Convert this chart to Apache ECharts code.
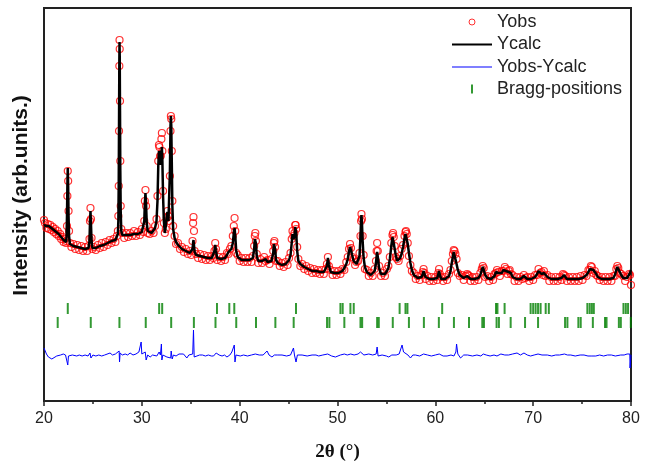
<!DOCTYPE html>
<html>
<head>
<meta charset="utf-8">
<script src="https://cdn.jsdelivr.net/npm/echarts@6/dist/echarts.min.js"></script>
<style>html,body{margin:0;padding:0;background:#fff;}#chart{width:651px;height:464px;}</style>
</head>
<body>
<div id="chart"></div>
<script>
// 2theta grid (degrees) shared by observed and calculated profiles
const twoTheta = [
20.0,20.1,20.25,20.4,20.5,20.65,20.75,20.9,21.0,21.15,21.25,21.4,21.5,21.65,21.75,21.9,22.0,22.15,22.25,
22.3,22.35,22.39,22.43,22.47,22.51,22.56,22.65,22.8,23.0,23.2,23.4,23.6,23.8,24.0,24.2,24.4,24.55,
24.65,24.7,24.75,24.8,24.86,24.95,25.1,25.3,25.5,25.7,25.9,26.1,26.3,26.5,26.7,26.9,27.1,27.3,27.45,
27.55,27.6,27.64,27.67,27.7,27.72,27.74,27.77,27.8,27.84,27.9,28.0,28.2,28.4,28.6,28.8,29.0,29.2,29.4,29.6,29.8,30.0,30.15,
30.25,30.31,30.37,30.43,30.5,30.6,30.8,31.0,31.2,31.35,31.5,31.6,31.68,31.75,31.8,31.87,31.93,32.0,32.05,32.1,32.17,32.25,32.35,32.45,32.55,32.62,32.72,32.8,32.87,32.93,32.97,33.01,33.06,33.12,33.2,
33.35,33.5,33.7,33.9,34.1,34.3,34.5,34.7,34.9,35.05,35.18,35.24,35.28,35.33,35.4,35.55,35.75,35.95,36.15,36.35,36.55,36.75,36.95,37.15,37.3,
37.42,37.5,37.58,37.7,37.9,38.1,38.3,38.5,38.7,38.85,39.0,39.15,39.3,39.4,39.48,39.55,39.65,39.8,40.0,40.2,40.4,40.6,40.8,41.0,41.2,41.35,
41.48,41.55,41.6,41.66,41.75,41.9,42.1,42.3,42.5,42.65,42.85,43.05,43.25,43.43,43.5,43.55,43.62,43.72,43.9,44.1,44.3,44.5,44.7,44.9,45.05,
45.2,45.32,45.4,45.5,45.6,45.68,45.72,45.78,45.88,46.0,46.2,46.4,46.6,46.8,47.0,47.2,47.4,47.6,47.8,48.0,48.2,48.4,48.6,48.8,
48.92,49.02,49.12,49.3,49.5,49.7,49.9,50.1,50.3,50.5,50.7,50.9,51.05,51.18,51.28,51.38,51.5,51.65,51.8,51.95,52.1,52.25,52.35,52.41,52.45,52.5,52.57,52.67,52.8,53.0,53.2,53.4,53.6,53.8,53.93,
54.0,54.05,54.12,54.25,54.45,54.65,54.85,55.05,55.2,55.35,55.5,55.62,55.68,55.75,55.85,55.95,56.1,56.25,56.4,56.55,56.7,56.85,56.95,57.0,57.08,57.18,57.3,57.45,57.6,57.8,
58.0,58.2,58.4,58.6,58.72,58.8,58.88,59.0,59.2,59.4,59.6,59.8,60.0,60.2,60.3,60.38,60.46,60.6,60.8,61.0,61.2,61.4,61.55,61.68,61.8,61.88,61.96,62.05,62.17,62.3,62.5,62.7,62.9,
63.1,63.25,63.35,63.45,63.6,63.8,64.0,64.2,64.4,64.6,64.75,64.85,64.95,65.1,65.3,65.5,65.7,65.9,66.05,66.2,66.3,66.42,66.6,66.8,66.95,67.1,67.22,67.38,67.5,67.6,67.72,67.9,
68.1,68.3,68.5,68.7,68.9,69.05,69.2,69.4,69.6,69.8,70.0,70.2,70.4,70.55,70.7,70.85,71.0,71.1,71.25,71.45,71.65,71.85,72.1,72.3,72.5,72.7,72.9,73.05,73.15,73.28,73.45,
73.65,73.85,74.05,74.25,74.45,74.65,74.85,75.05,75.25,75.45,75.65,75.8,75.9,76.0,76.15,76.3,76.45,76.6,76.8,77.0,77.2,77.4,77.6,77.8,78.0,78.2,78.35,78.5,78.6,78.7,78.85,79.0,79.2,79.4,79.6,79.8,79.9,80.0
];
// calculated intensity (arb. units)
const yCalc = [
176,176,175,175,175,174,173,172,171,170,169,168,167,165,164,162,161,160,159,
163,185,215,233,215,185,165,157,156,155,154,154,153,153,152,152,152,153,
160,178,190,178,160,153,152,153,154,155,156,156,157,158,159,160,160,161,163,
167,180,220,280,340,359,345,290,230,190,170,166,165,166,166,166,167,167,167,167,168,169,171,
180,198,208,198,178,170,169,168,170,173,180,200,235,250,252,242,236,248,254,240,205,180,168,175,185,189,180,180,230,275,285,275,240,195,172,
163,159,156,154,152,151,150,149,148,148,152,158,161,156,149,146,145,145,144,144,143,143,143,143,144,
150,156,150,143,142,142,142,143,146,149,150,152,158,168,173,165,150,144,142,141,141,141,141,141,141,143,
152,162,164,158,145,140,140,140,141,142,139,139,140,148,157,159,152,141,138,137,136,136,137,138,141,
146,158,167,162,165,174,175,168,150,140,137,135,134,133,132,131,130,130,130,129,129,129,129,130,
135,143,136,129,128,128,128,128,129,130,133,137,142,150,154,151,146,140,138,137,139,145,165,182,186,178,160,143,134,129,127,126,127,130,138,
145,149,144,133,127,126,127,130,133,142,155,164,166,162,152,146,140,138,143,147,154,163,167,168,165,157,148,138,131,126,
124,123,123,124,127,130,127,124,123,122,122,122,122,123,127,130,126,122,122,122,123,125,130,138,145,149,147,142,137,131,126,124,123,
123,125,126,124,122,122,122,122,123,126,131,134,131,126,123,122,122,123,125,129,130,128,126,128,131,133,130,128,129,130,128,124,
122,122,122,122,123,125,124,122,122,122,123,124,127,130,129,127,127,128,126,124,122,122,122,122,122,122,123,125,126,124,122,
122,122,122,122,122,122,123,123,124,126,129,132,134,133,131,129,127,124,123,122,122,122,122,122,122,123,126,131,134,132,129,126,123,122,123,125,128,131
];
// observed intensity (arb. units)
const yObs = [
181,178,173,177,172,176,171,174,169,172,167,170,165,167,162,164,159,162,158,
160,175,205,230,220,190,170,158,154,157,152,156,151,155,150,154,150,155,
162,180,193,182,163,152,154,151,156,153,158,154,159,156,161,158,162,159,165,
170,185,215,270,335,361,352,300,240,195,172,168,163,168,164,168,165,170,165,169,166,172,169,
180,200,211,195,175,168,167,170,168,175,182,205,240,256,254,245,245,262,268,250,210,178,168,172,183,190,185,180,225,270,285,282,250,200,175,
165,157,158,152,154,149,152,147,150,146,160,178,184,170,150,147,143,147,142,146,141,145,141,145,143,
150,158,152,141,144,140,144,141,148,147,152,155,165,175,183,170,148,146,140,143,139,143,139,143,139,145,
155,165,168,160,147,138,142,138,144,140,141,137,142,150,158,160,154,140,140,135,138,134,139,136,143,
148,162,170,165,168,176,176,172,154,142,135,137,132,135,130,133,128,132,128,131,127,131,127,132,
137,144,135,131,126,130,126,130,127,132,131,139,144,152,157,153,144,142,136,139,140,148,165,180,187,182,165,146,132,131,125,128,125,132,140,
150,158,150,135,125,128,125,132,135,144,158,166,168,164,155,144,142,140,145,152,156,165,169,170,167,158,145,136,130,128,
122,125,121,126,129,132,128,122,125,120,124,120,124,121,128,132,127,124,120,124,121,127,131,140,147,151,150,147,142,128,125,126,121,
125,127,126,125,120,124,120,124,121,128,132,135,133,124,125,120,124,121,127,128,131,129,125,130,130,134,132,127,130,131,127,126,
120,124,120,124,122,126,123,124,120,124,121,126,126,132,128,129,126,130,125,126,120,124,120,124,120,124,121,127,126,125,120,
124,120,124,120,124,120,125,121,126,125,131,131,135,134,128,130,126,125,121,124,120,124,120,124,120,125,125,132,135,133,128,127,125,120,124,127,126,116
];
// difference curve Yobs-Ycalc (plotted with its offset), [2theta, value]
const diffPoints = [
[20.0,53],[20.1,51],[20.25,47],[20.45,44],[20.6,42],[20.8,42],[21.0,44],[21.3,45],[21.5,47],[21.7,46],[21.97,47],[22.2,46],[22.38,48],[22.43,36],[22.5,45],[22.66,45],[22.9,46],[23.1,44],[23.35,45],[23.6,46],[23.9,45],[24.2,46],[24.5,45],[24.7,48],[24.8,43],[25.0,46],[25.3,45],[25.6,46],[25.9,45],[26.2,46],[26.4,45],[26.75,48],[27.0,46],[27.3,47],[27.5,45],[27.68,50],[27.72,39],[27.78,48],[28.0,46],[28.3,47],[28.55,46],[28.8,48],[29.1,46],[29.4,47],[29.7,49],[29.93,59],[30.0,47],[30.16,46],[30.35,49],[30.44,41],[30.6,46],[30.85,44],[31.1,46],[31.3,45],[31.53,45],[31.77,49],[31.9,46],[32.0,57],[32.05,41],[32.15,46],[32.35,45],[32.56,44],[32.75,46],[32.95,43],[33.0,50],[33.1,42],[33.23,46],[33.5,45],[33.8,47],[34.0,46],[34.26,47],[34.45,45],[34.6,43],[34.8,46],[35.0,46],[35.2,47],[35.28,71],[35.35,44],[35.45,46],[35.63,45],[35.9,46],[36.2,46],[36.5,45],[36.8,46],[37.1,45],[37.33,45],[37.5,47],[37.6,48],[37.9,46],[38.2,45],[38.45,46],[38.7,44],[39.0,46],[39.2,49],[39.45,56],[39.52,39],[39.62,46],[40.06,45],[40.4,46],[40.8,45],[41.2,46],[41.6,47],[42.0,46],[42.4,46],[42.8,50],[43.0,46],[43.3,44],[43.55,46],[43.9,46],[44.33,46],[44.8,45],[45.2,46],[45.5,53],[45.6,46],[45.76,39],[45.9,46],[46.38,46],[46.9,45],[47.4,46],[47.8,46],[48.08,45],[48.5,46],[49.0,47],[49.4,45],[49.79,44],[50.3,46],[50.7,47],[51.0,46],[51.15,48],[51.35,47],[51.7,46],[52.1,47],[52.35,49],[52.52,48],[52.7,46],[53.2,47],[53.6,46],[53.95,47],[54.05,54],[54.15,45],[54.56,46],[55.0,45],[55.24,44],[55.55,46],[55.7,47],[56.0,46],[56.3,47],[56.6,56],[56.75,49],[56.95,48],[57.2,46],[57.46,43],[57.7,46],[57.97,46],[58.4,45],[58.8,47],[59.2,46],[59.6,45],[60.0,46],[60.4,47],[60.8,45],[61.2,45],[61.6,46],[61.9,45],[62.1,49],[62.17,57],[62.3,47],[62.58,43],[62.9,46],[63.3,46],[63.8,45],[64.25,46],[64.65,45],[64.9,47],[65.2,46],[65.6,45],[66.0,46],[66.3,45],[66.7,47],[67.1,46],[67.5,46],[67.9,47],[68.35,48],[68.7,46],[69.06,48],[69.4,46],[69.74,45],[70.1,46],[70.5,47],[70.9,46],[71.45,46],[71.9,45],[72.3,46],[72.7,46],[73.2,47],[73.5,46],[73.85,46],[74.3,45],[74.8,46],[75.2,46],[75.6,45],[76.0,45],[76.2,43],[76.4,45],[76.8,46],[77.2,45],[77.6,46],[78.0,46],[78.4,45],[78.95,46],[79.3,46],[79.6,47],[79.8,48],[79.88,47],[79.9,33],[80.0,46]
];
// Bragg reflection positions (2theta) for the two phases
const braggPhase1 = [22.43,31.77,32.08,37.68,38.94,39.45,45.76,50.3,50.53,51.32,51.66,56.35,56.95,57.15,60.7,66.2,66.35,67.08,69.74,70.0,70.25,70.5,70.76,71.28,71.6,75.54,75.78,76.0,76.2,79.23,79.47,79.7];
const braggPhase2 = [21.4,24.78,27.71,30.4,33.0,35.32,37.53,39.65,41.67,43.65,45.52,48.93,49.17,50.7,52.35,52.52,54.05,54.22,55.65,57.3,58.83,60.36,61.9,63.44,64.8,64.97,66.26,66.5,67.7,69.17,70.5,73.26,73.5,74.62,74.86,76.1,77.34,77.5,78.76,78.96,79.98];
const xTicks = [20,30,40,50,60,70,80];

const BRAGG1_LEVEL = 92.5, BRAGG2_LEVEL = 78.5;
const calcData = twoTheta.map((t,i)=>[t,yCalc[i]]);
const obsData = twoTheta.map((t,i)=>[t,yObs[i]]);
const b1 = braggPhase1.map(t=>[t,BRAGG1_LEVEL]);
const b2 = braggPhase2.map(t=>[t,BRAGG2_LEVEL]);

const chart = echarts.init(document.getElementById('chart'), null, {renderer:'canvas'});
const txt = {fontFamily:'Liberation Sans, Arial, sans-serif', color:'#222'};
chart.setOption({
  animation:false,
  backgroundColor:'#fff',
  grid:{left:44,right:20,top:8,bottom:63,outerBoundsMode:'none',containLabel:false,show:true,borderColor:'#222',borderWidth:2,backgroundColor:'transparent'},
  xAxis:{type:'value',min:xTicks[0],max:xTicks[xTicks.length-1],interval:10,
    axisLine:{show:true,lineStyle:{color:'#222',width:2}},
    axisTick:{show:true,length:5,lineStyle:{color:'#222',width:1.5}},
    minorTick:{show:true,splitNumber:2,length:3,lineStyle:{color:'#222',width:1.5}},
    splitLine:{show:false},
    axisLabel:Object.assign({fontSize:16,margin:10},txt),
    name:'2θ (°)',nameLocation:'middle',nameGap:42,
    nameTextStyle:{fontFamily:'Liberation Serif, Times New Roman, serif',fontWeight:'bold',fontSize:19,color:'#111'}
  },
  yAxis:{type:'value',min:0,max:393,
    axisLine:{show:true,lineStyle:{color:'#222',width:2}},
    axisTick:{show:false},axisLabel:{show:false},splitLine:{show:false},
    name:'Intensity (arb.units.)',nameLocation:'middle',nameGap:12,
    nameTextStyle:{fontFamily:'Liberation Sans, Arial, sans-serif',fontWeight:'bold',fontSize:21,color:'#111',padding:[0,0,0,18]}
  },
  legend:[
    {data:[{name:'Yobs',icon:'circle',itemStyle:{color:'transparent',borderColor:'#ff0000',borderWidth:1}},
           {name:'Ycalc',icon:'path://M0,0L40,0L40,2L0,2Z',itemStyle:{color:'#000'}},
           {name:'Yobs-Ycalc',icon:'path://M0,0L40,0L40,1L0,1Z',itemStyle:{color:'#0000ff'}}],
     orient:'vertical',left:452,top:11,padding:0,itemGap:0.5,itemWidth:40,itemHeight:6,selectedMode:false,
     textStyle:Object.assign({fontSize:18,lineHeight:22},txt)},
    {data:[{name:'Bragg-positions',icon:'path://M0,0L2,0L2,9L0,9Z',itemStyle:{color:'#008000'}}],
     orient:'vertical',left:471,top:78,padding:0,itemWidth:40,itemHeight:9,selectedMode:false,
     textStyle:Object.assign({fontSize:18,lineHeight:22},txt)}
  ],
  series:[
    {name:'Yobs',type:'scatter',data:obsData,symbol:'circle',symbolSize:7,z:2,
     itemStyle:{color:'transparent',borderColor:'#ff0000',borderWidth:1.2}},
    {name:'Ycalc',type:'line',data:calcData,symbol:'none',z:3,lineStyle:{color:'#000',width:2.5},itemStyle:{color:'#000'}},
    {name:'Yobs-Ycalc',type:'line',data:diffPoints,symbol:'none',z:3,lineStyle:{color:'#0000ff',width:1},itemStyle:{color:'#0000ff'}},
    {name:'Bragg-positions',type:'scatter',data:b1,symbol:'rect',symbolSize:[2,11],z:3,itemStyle:{color:'#008000'}},
    {name:'Bragg-positions',type:'scatter',data:b2,symbol:'rect',symbolSize:[2,11],z:3,itemStyle:{color:'#008000'}}
  ]
});
</script>
</body>
</html>
